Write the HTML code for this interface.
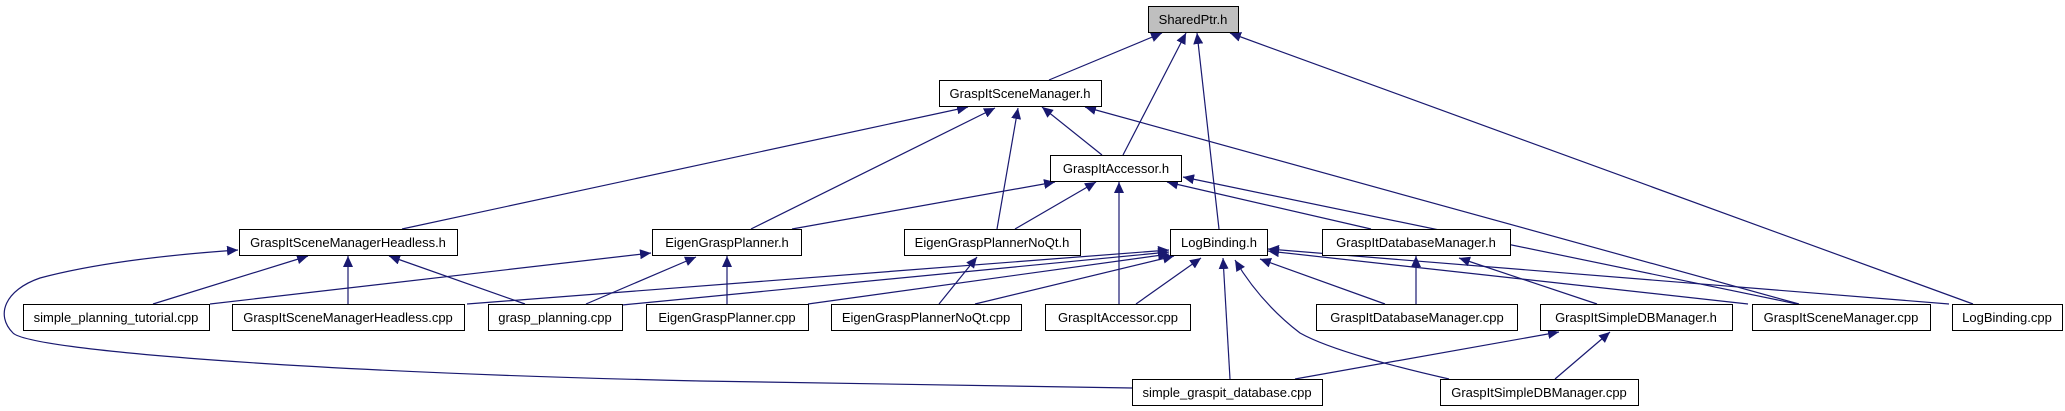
<!DOCTYPE html>
<html><head><meta charset="utf-8"><style>
html,body{margin:0;padding:0;background:#fff;}
svg{display:block;}
text{font-family:"Liberation Sans",sans-serif;font-size:13px;fill:#000;}
</style></head><body>
<svg width="2065" height="411" viewBox="0 0 2065 411" xmlns="http://www.w3.org/2000/svg">
<defs>
<marker id="a" markerUnits="userSpaceOnUse" markerWidth="12" markerHeight="10" refX="11" refY="5" orient="auto">
<path d="M0,0 L11,5 L0,10 Z" fill="#191970"/>
</marker>
</defs>
<g stroke="#191970" stroke-width="1.2" fill="none" marker-end="url(#a)">
<!-- SharedPtr -->
<path d="M1049,80 L1162,33"/>
<path d="M1123,155 L1186,33"/>
<path d="M1219,229 L1197,33"/>
<path d="M1973,304 L1230,33"/>
<!-- GSM.h -->
<path d="M402,229 L968,107"/>
<path d="M751,229 L995,108"/>
<path d="M997,229 L1018,108"/>
<path d="M1102,155 L1042,107"/>
<path d="M1799,304 L1085,107"/>
<!-- Accessor.h -->
<path d="M792,229 L1055,182"/>
<path d="M1015,229 L1096,182"/>
<path d="M1119,304 L1119,182"/>
<path d="M1371,229 L1167,182"/>
<path d="M1797,304 L1183,177"/>
<!-- Headless.h -->
<path d="M153,304 L308,256"/>
<path d="M348,304 L348,256"/>
<path d="M525,304 L389,256"/>
<path d="M1132,388 L700,381 C300,372 30,350 13,333 C-5,315 5,290 40,278 C100,262 180,254 238,250"/>
<!-- EGP.h -->
<path d="M210,304 L651,253"/>
<path d="M586,304 L696,257"/>
<path d="M727,304 L727,256"/>
<!-- NoQt.h -->
<path d="M939,304 L977,257"/>
<!-- LogBinding.h -->
<path d="M467,304 L1169,250"/>
<path d="M622,305 L1169,252"/>
<path d="M808,304 L1169,254"/>
<path d="M975,304 L1174,256"/>
<path d="M1136,304 L1201,258"/>
<path d="M1230,379 L1223,258"/>
<path d="M1449,379 C1400,368 1330,350 1300,333 C1270,310 1250,285 1235,260"/>
<path d="M1385,304 L1260,259"/>
<path d="M1748,304 L1268,251"/>
<path d="M1949,304 L1268,249"/>
<!-- DBM.h -->
<path d="M1416,304 L1416,256"/>
<path d="M1597,304 L1459,258"/>
<!-- SimpleDB.h -->
<path d="M1295,379 L1559,332"/>
<path d="M1555,379 L1610,332"/>
</g>
<g stroke="#000" stroke-width="1" fill="#fff">
<rect x="1148.5" y="6.5" width="90" height="26" fill="#bfbfbf"/>
<rect x="939.5" y="80.5" width="162" height="26"/>
<rect x="1050.5" y="155.5" width="131" height="26"/>
<rect x="239.5" y="229.5" width="218" height="26"/>
<rect x="652.5" y="229.5" width="149" height="26"/>
<rect x="904.5" y="229.5" width="176" height="26"/>
<rect x="1170.5" y="229.5" width="97" height="26"/>
<rect x="1322.5" y="229.5" width="188" height="26"/>
<rect x="23.5" y="304.5" width="186" height="26"/>
<rect x="232.5" y="304.5" width="232" height="26"/>
<rect x="488.5" y="304.5" width="134" height="26"/>
<rect x="646.5" y="304.5" width="162" height="26"/>
<rect x="831.5" y="304.5" width="190" height="26"/>
<rect x="1045.5" y="304.5" width="145" height="26"/>
<rect x="1316.5" y="304.5" width="201" height="26"/>
<rect x="1540.5" y="304.5" width="192" height="26"/>
<rect x="1752.5" y="304.5" width="178" height="26"/>
<rect x="1952.5" y="304.5" width="110" height="26"/>
<rect x="1132.5" y="379.5" width="190" height="26"/>
<rect x="1440.5" y="379.5" width="198" height="26"/>
</g>
<g text-anchor="middle">
<text x="1193" y="24">SharedPtr.h</text>
<text x="1020" y="98">GraspItSceneManager.h</text>
<text x="1116" y="173">GraspItAccessor.h</text>
<text x="348" y="247">GraspItSceneManagerHeadless.h</text>
<text x="727" y="247">EigenGraspPlanner.h</text>
<text x="992" y="247">EigenGraspPlannerNoQt.h</text>
<text x="1219" y="247">LogBinding.h</text>
<text x="1416" y="247">GraspItDatabaseManager.h</text>
<text x="116" y="322">simple_planning_tutorial.cpp</text>
<text x="348" y="322">GraspItSceneManagerHeadless.cpp</text>
<text x="555" y="322">grasp_planning.cpp</text>
<text x="727" y="322">EigenGraspPlanner.cpp</text>
<text x="926" y="322">EigenGraspPlannerNoQt.cpp</text>
<text x="1118" y="322">GraspItAccessor.cpp</text>
<text x="1417" y="322">GraspItDatabaseManager.cpp</text>
<text x="1636" y="322">GraspItSimpleDBManager.h</text>
<text x="1841" y="322">GraspItSceneManager.cpp</text>
<text x="2007" y="322">LogBinding.cpp</text>
<text x="1227" y="397">simple_graspit_database.cpp</text>
<text x="1539" y="397">GraspItSimpleDBManager.cpp</text>
</g>
</svg>
</body></html>
